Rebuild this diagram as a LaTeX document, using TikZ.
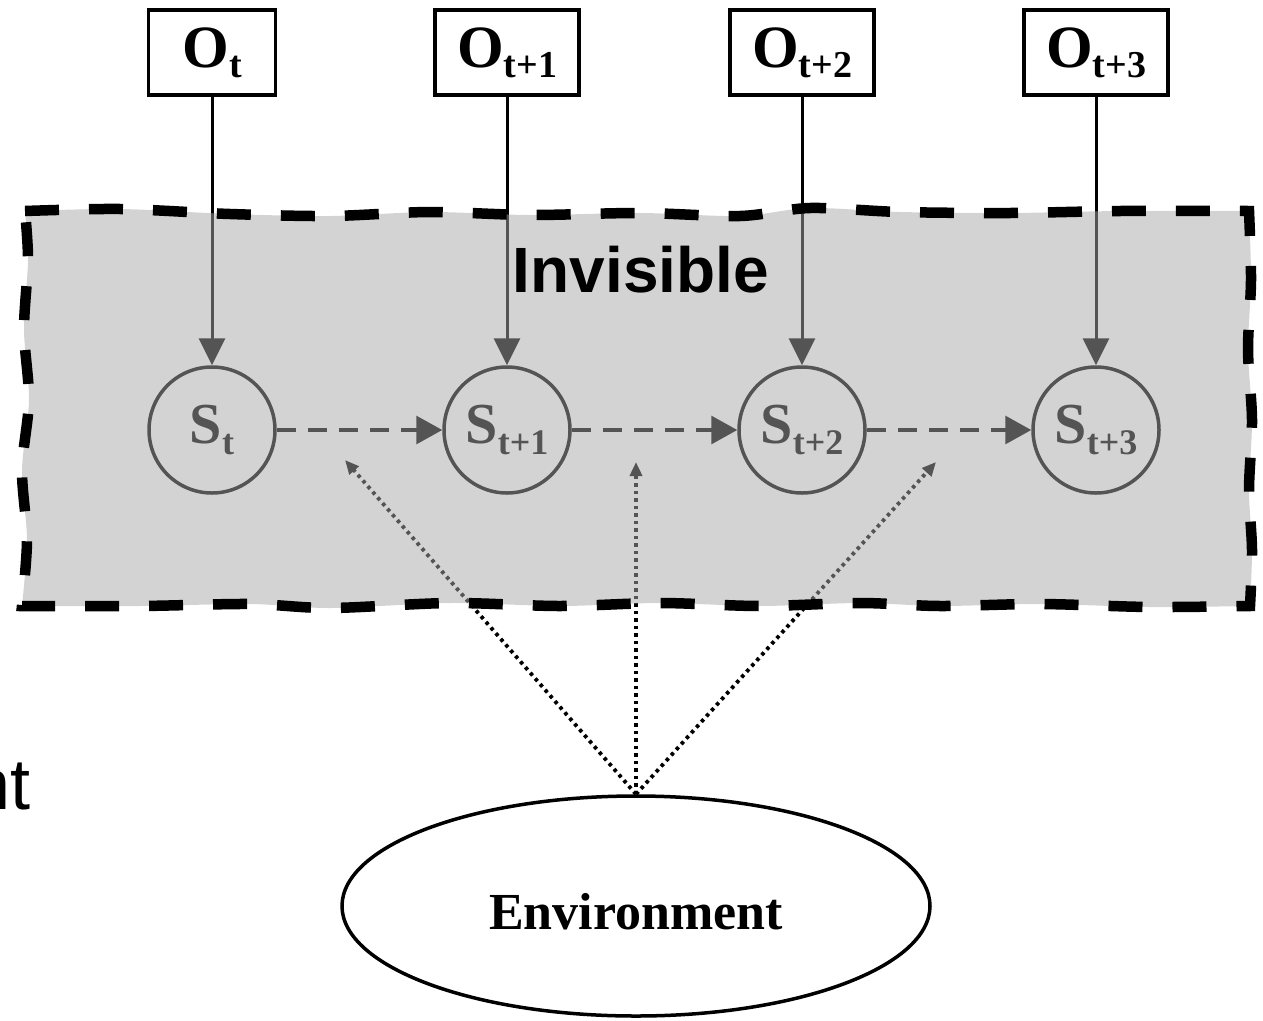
\documentclass[tikz,border=0pt]{standalone}
\usepackage{fontspec}
\setmainfont{Liberation Serif}
\newfontfamily\arialf{Liberation Sans}
\usetikzlibrary{arrows.meta,shapes.geometric}
\newcommand\bigsub[5]{{\fontsize{#3}{#3}\selectfont\bfseries #1}\raisebox{-#5pt}{\fontsize{#4}{#4}\selectfont\bfseries #2}}
\tikzset{
  obox/.style={draw=black, line width=3.5pt, minimum width=144pt, minimum height=85pt, inner sep=0pt, fill=white},
  scirc/.style={circle, draw=black, line width=3.5pt, minimum size=126pt, inner sep=0pt},
  oarrow/.style={line width=3pt, -{Triangle[length=27pt,width=26pt]}},
  sarrow/.style={line width=3.2pt, dash pattern=on 19pt off 12pt, -{Triangle[length=26pt,width=28pt]}},
  earrow/.style={line width=3.8pt, dash pattern=on 3.5pt off 4pt, -{Triangle[length=14pt,width=12pt]}},
  envnode/.style={ellipse, draw=black, line width=3.5pt, minimum width=588pt, minimum height=220pt, inner sep=0pt, fill=white},
  region/.style={fill=black!34, fill opacity=0.5, draw=black, line width=10.5pt, dash pattern=on 34pt off 30pt, line join=miter}
}
\begin{document}
\begin{tikzpicture}[x=1pt, y=-1pt]
\useasboundingbox (0,0) rectangle (1263,1020);
\clip (0,0) rectangle (1263,1020);
% observation boxes
\node[obox, minimum width=127pt] (o1) at (212,52.5) {\bigsub{O}{t}{60}{38}{10}};
\node[obox] (o2) at (507,52.5) {\bigsub{O}{t+1}{60}{38}{10}};
\node[obox] (o3) at (802,52.5) {\bigsub{O}{t+2}{60}{38}{10}};
\node[obox] (o4) at (1096,52.5) {\bigsub{O}{t+3}{60}{38}{10}};
% state circles
\node[scirc] (s1) at (212,430) {\bigsub{S}{t}{58}{36}{11}};
\node[scirc] (s2) at (507,430) {\bigsub{S}{t+1}{58}{36}{11}};
\node[scirc] (s3) at (802,430) {\bigsub{S}{t+2}{58}{36}{11}};
\node[scirc] (s4) at (1096,430) {\bigsub{S}{t+3}{58}{36}{11}};
\draw[oarrow] (o1) -- (s1);
\draw[oarrow] (o2) -- (s2);
\draw[oarrow] (o3) -- (s3);
\draw[oarrow] (o4) -- (s4);
\draw[sarrow] (s1) -- (s2);
\draw[sarrow] (s2) -- (s3);
\draw[sarrow] (s3) -- (s4);
% environment
\node[envnode] (env) at (636,906) {\smash{\raisebox{-23pt}{\fontsize{52}{52}\selectfont\bfseries Environment}}};
\coordinate (e1) at (345,460);
\coordinate (e2) at (636,462);
\coordinate (e3) at (936,462);
\draw[earrow] (env.north) -- (e1);
\draw[earrow] (env.north) -- (e2);
\draw[earrow] (env.north) -- (e3);
% invisible region (semi-transparent overlay)
\path[region]
  plot[smooth] coordinates {(25,211) (120,209) (230,214) (330,216) (430,212) (530,215) (640,213) (740,216) (810,208) (900,212) (1010,213) (1120,211) (1249,211)}
  -- plot[smooth] coordinates {(1249,211) (1251,280) (1248,350) (1252,420) (1249,490) (1252,550) (1250,606)}
  -- plot[smooth] coordinates {(1250,606) (1150,607) (1040,604) (940,606) (860,603) (760,606) (660,603) (560,606) (450,603) (330,608) (250,604) (140,606) (22,606)}
  -- plot[smooth] coordinates {(22,606) (27,540) (22,470) (29,400) (24,330) (28,260) (25,211)}
  -- cycle;
\node[inner sep=0pt] (inv) at (641,270) {\arialf\bfseries\fontsize{64}{64}\selectfont Invisible};
\node[inner sep=0pt, anchor=base east] (nt) at (31,809) {\arialf\fontsize{72}{72}\selectfont nt};
\end{tikzpicture}
\end{document}
